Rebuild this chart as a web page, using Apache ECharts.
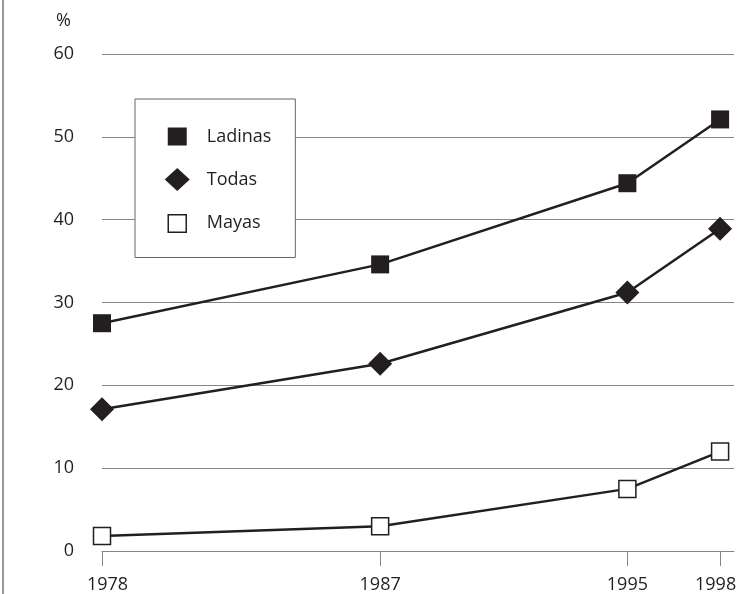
<!DOCTYPE html>
<html>
<head>
<meta charset="utf-8">
<script src="https://cdn.jsdelivr.net/npm/echarts@6/dist/echarts.min.js"></script>
<style>html,body{margin:0;padding:0;background:#fff}#c{width:744px;height:594px}</style>
</head>
<body>
<div id="c"></div>
<script>
const years = [1978, 1987, 1995, 1998];
const ladinas = [27.5, 34.6, 44.4, 52.1];
const todas = [17.1, 22.6, 31.2, 38.9];
const mayas = [1.8, 3.0, 7.5, 12.0];
const seriesNames = ['Ladinas', 'Todas', 'Mayas'];
const yTicks = [0, 10, 20, 30, 40, 50, 60];

const ink = '#231f20';
const gridGrey = '#858585';
const font = '"Open Sans", "Noto Sans", sans-serif';
const pairs = arr => years.map((y, i) => [y, arr[i]]);
const firstYear = years[0];
const lastYear = years[years.length - 1];

const chart = echarts.init(document.getElementById('c'));
chart.setOption({
  animation: false,
  backgroundColor: '#fff',
  textStyle: { fontFamily: font, color: ink },
  grid: { left: 102, right: 10, top: 54, bottom: 43 },
  xAxis: {
    type: 'value', min: firstYear, max: 1998.45,
    axisLine: { show: true, lineStyle: { color: gridGrey, width: 1 } },
    axisTick: { show: true, customValues: years, length: 15, lineStyle: { color: gridGrey, width: 1 } },
    axisLabel: {
      customValues: years,
      formatter: v => v === firstYear ? '{l|' + v + '}' : (v === lastYear ? '{r|' + v + '}' : String(v)),
      rich: {
        l: { fontSize: 18, color: ink, fontFamily: font, padding: [0, 0, 0, 11] },
        r: { fontSize: 18, color: ink, fontFamily: font, padding: [0, 9, 0, 0] }
      },
      fontSize: 18, color: ink, margin: 25, fontFamily: font
    },
    splitLine: { show: false }
  },
  yAxis: {
    type: 'value', min: yTicks[0], max: yTicks[yTicks.length - 1], interval: 10,
    name: '%', nameLocation: 'end', nameGap: 24,
    nameTextStyle: { fontSize: 18, color: ink, align: 'right', padding: [0, 31, 0, 0], fontFamily: font },
    axisLine: { show: false }, axisTick: { show: false },
    axisLabel: { fontSize: 18, color: ink, margin: 28, fontFamily: font },
    splitLine: { show: true, lineStyle: { color: gridGrey, width: 1 } }
  },
  legend: {
    orient: 'vertical', left: 135, top: 99,
    padding: [26, 24, 22, 29],
    backgroundColor: '#fff', borderColor: '#666', borderWidth: 1,
    itemWidth: 25, itemHeight: 23, itemGap: 20,
    textStyle: { fontSize: 18, color: ink, fontFamily: font, padding: [0, 0, 0, 12], lineHeight: 23 },
    data: [
      { name: seriesNames[0], icon: 'path://M0,0M25,23M3,2.5h19v18h-19z', itemStyle: { color: ink, borderWidth: 0 } },
      { name: seriesNames[1], icon: 'diamond', itemStyle: { color: ink, borderWidth: 0 } },
      { name: seriesNames[2], icon: 'path://M0,0M25,23M3.5,3h18v17.5h-18z', itemStyle: { color: '#fff', borderColor: ink, borderWidth: 1.5 } }
    ]
  },
  graphic: [{
    type: 'line', shape: { x1: 3, y1: 0, x2: 3, y2: 594 },
    style: { stroke: '#777', lineWidth: 1.5 }, silent: true
  }],
  series: [
    {
      name: seriesNames[0], type: 'line', data: pairs(ladinas),
      symbol: 'rect', symbolSize: 18,
      itemStyle: { color: ink },
      lineStyle: { color: ink, width: 2.5 }
    },
    {
      name: seriesNames[1], type: 'line', data: pairs(todas),
      symbol: 'diamond', symbolSize: 24,
      itemStyle: { color: ink },
      lineStyle: { color: ink, width: 2.5 }
    },
    {
      name: seriesNames[2], type: 'line', data: pairs(mayas),
      symbol: 'rect', symbolSize: 17,
      itemStyle: { color: '#fff', borderColor: ink, borderWidth: 1.5 },
      lineStyle: { color: ink, width: 2.5 }
    }
  ]
});
</script>
</body>
</html>
